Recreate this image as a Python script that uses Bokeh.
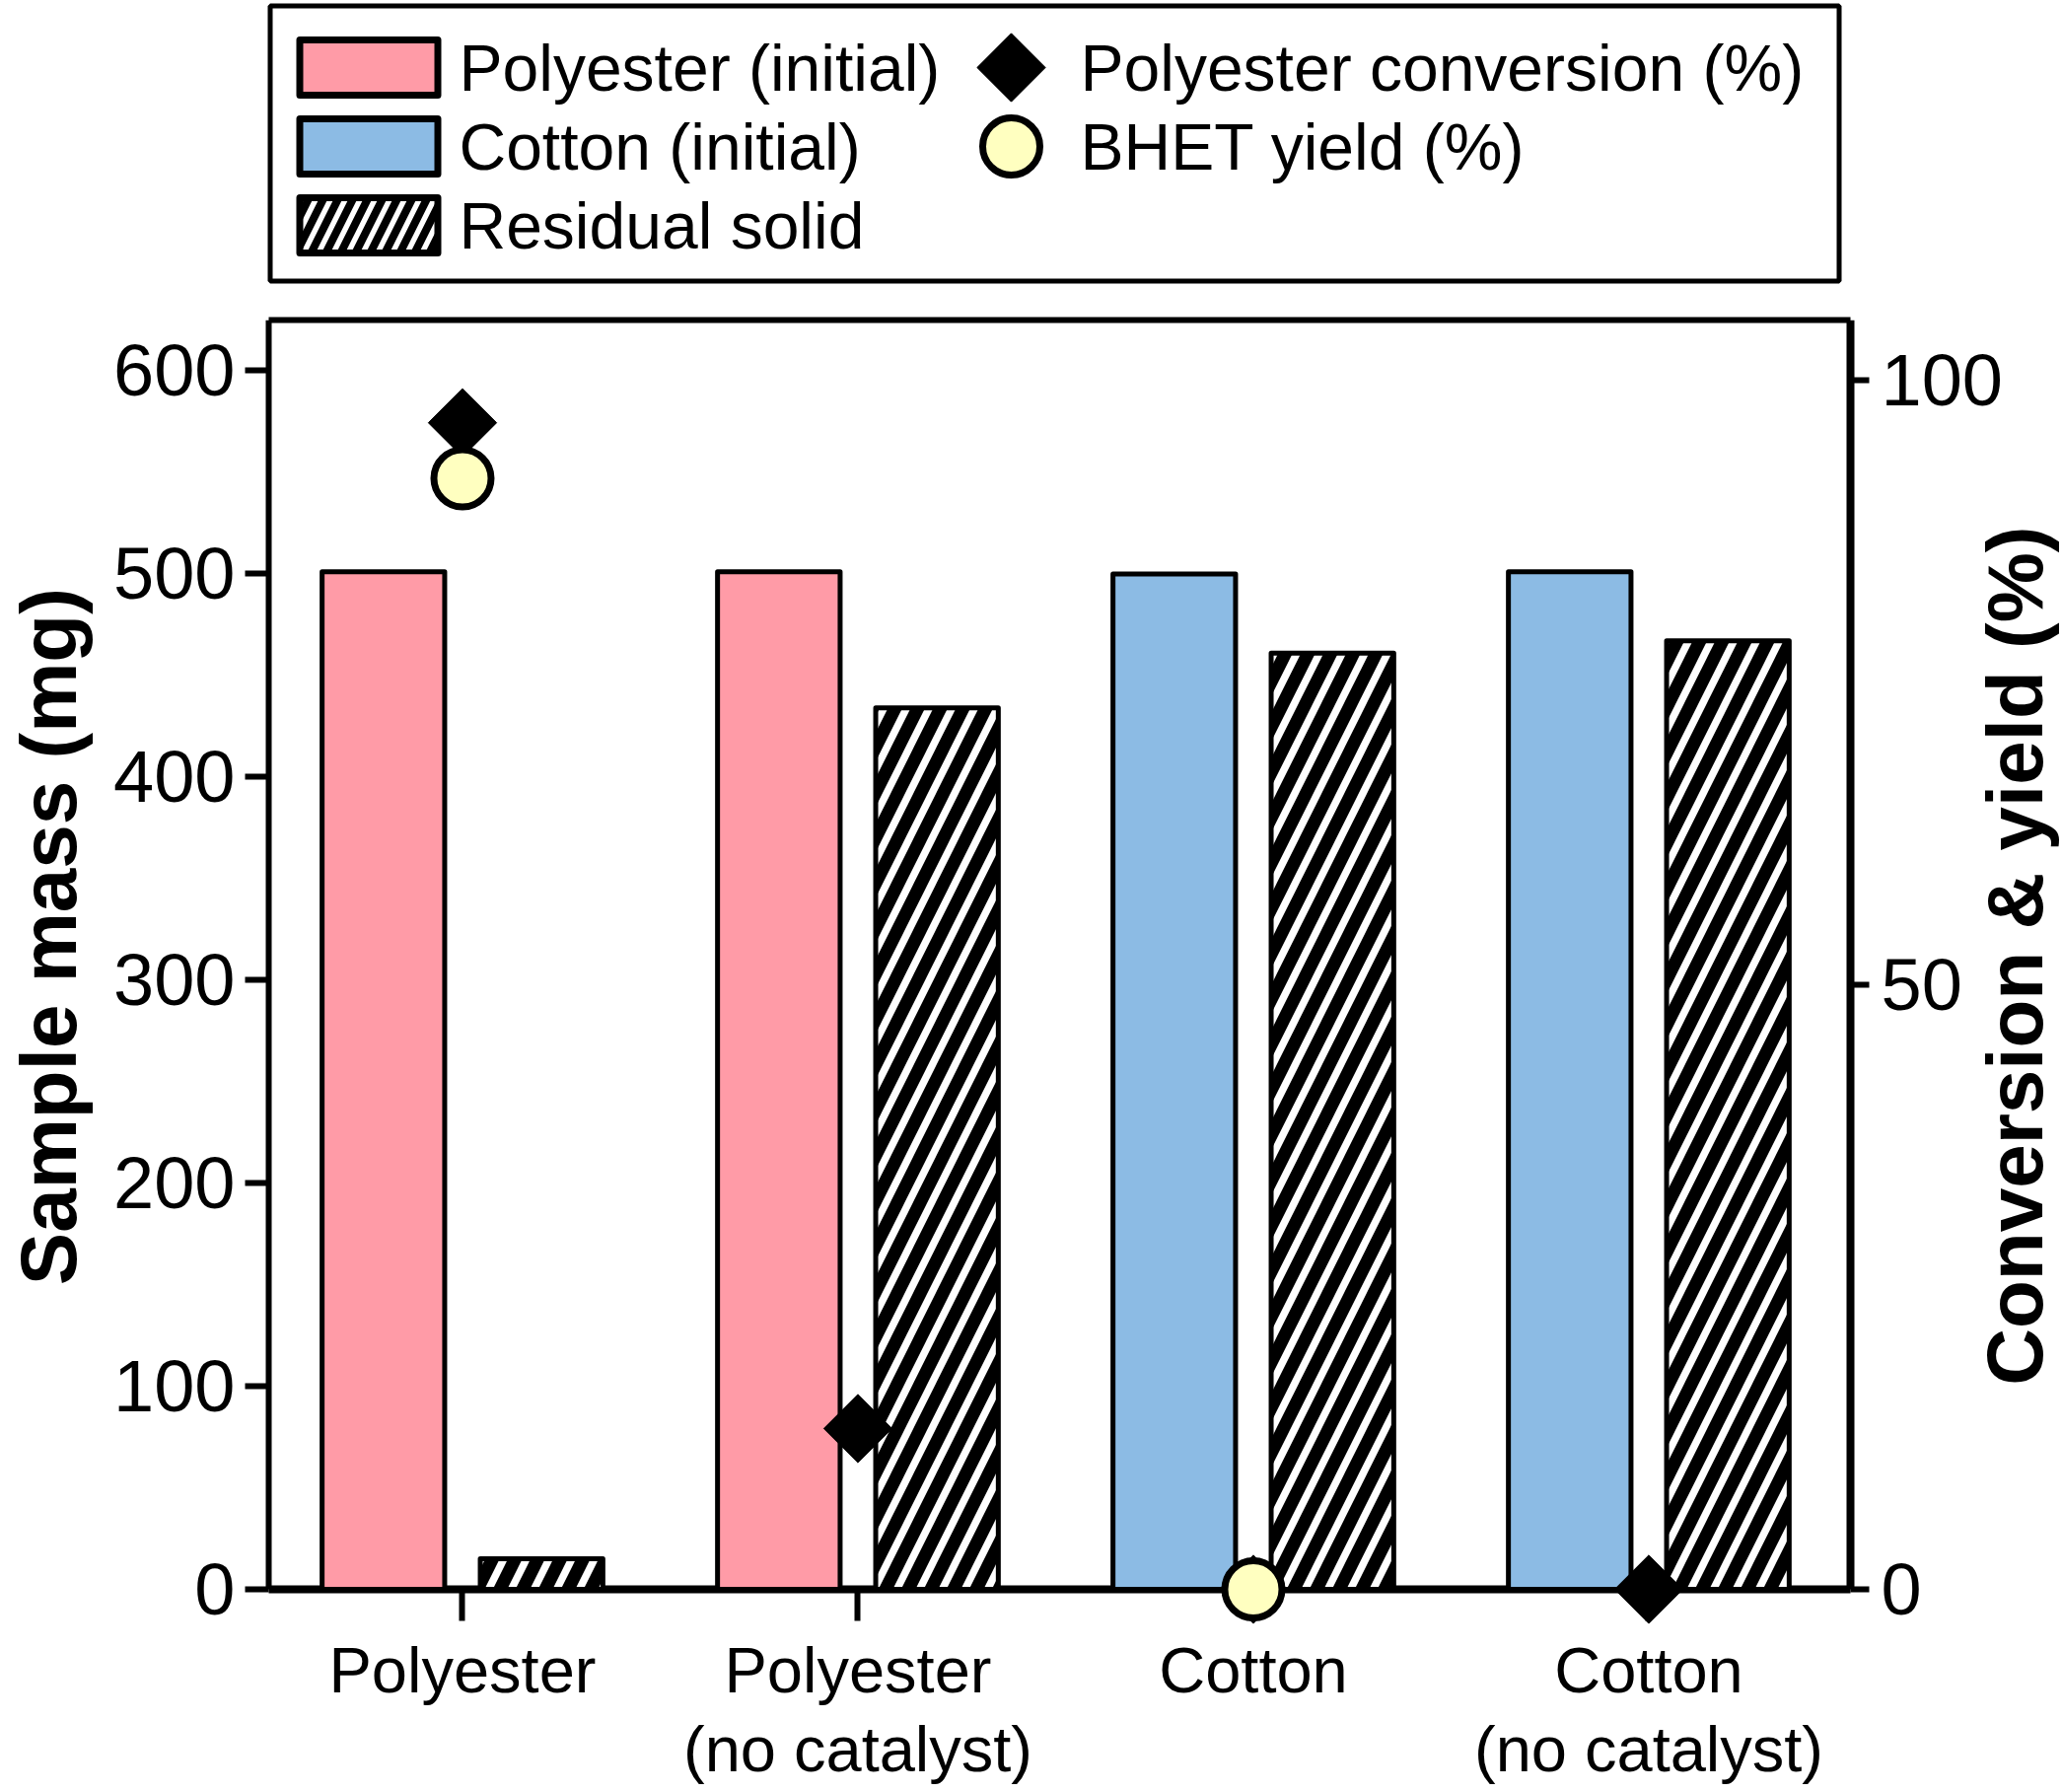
import math
from bokeh.plotting import figure
from bokeh.models import (Range1d, LinearAxis, FixedTicker, ColumnDataSource, Label)
from bokeh.layouts import column
from bokeh.transform import dodge
from bokeh.core.properties import value
from bokeh.embed import file_html
from bokeh.resources import INLINE

# ---------------- data ----------------
categories = ["Polyester", "Polyester\n(no catalyst)", "Cotton", "Cotton\n(no catalyst)"]
material = ["Polyester", "Polyester", "Cotton", "Cotton"]
initial_mass = [501, 501, 500, 501]          # mg
residual_mass = [15, 434, 461, 467]          # mg
conversion_pct = [96.5, 13.3, 0.0, 0.0]      # %
bhet_yield_pct = [91.9, float("nan"), 0.0, float("nan")]  # %
left_ticks = [0, 100, 200, 300, 400, 500, 600]
right_ticks = [0, 50, 100]
legend_labels = ["Polyester (initial)", "Cotton (initial)", "Residual solid",
                 "Polyester conversion (%)", "BHET yield (%)"]
y_title = "Sample mass (mg)"
y2_title = "Conversion & yield (%)"

# ---------------- styles / layout ----------------
PINK = "#FF9BA7"
BLUE = "#8CBBE4"
YELLOW = "#FFFFC0"
FONT = "Liberation Sans"
W = 2088
LEG_H = 300
MAIN_H = 1514
PX_CAT = 401.0            # pixels per category
SPINE_L = -0.49           # x (category units) of the left spine
SPINE_R = 3.51            # x of the right spine
SPINE_L_PX = 272          # canvas x of the left spine
X0 = SPINE_L - SPINE_L_PX / PX_CAT
X1 = X0 + W / PX_CAT
Y_TOP = 625.0
Y_PAD = 17.0
PCT_TOP = 105.0
PCT_PAD = Y_PAD * PCT_TOP / Y_TOP

# ---------------- main figure ----------------
p = figure(x_range=Range1d(X0, X1), y_range=Range1d(-Y_PAD, Y_TOP),
           width=W, height=MAIN_H, output_backend="svg", toolbar_location=None,
           min_border_left=0, min_border_right=0, min_border_top=24,
           min_border_bottom=168)
p.extra_y_ranges = {"pct": Range1d(-PCT_PAD, PCT_TOP)}
p.xgrid.visible = False
p.ygrid.visible = False
p.outline_line_color = None
p.background_fill_color = "white"
p.border_fill_color = "white"
xa = p.below[0]
ya = p.left[0]

xi = list(range(len(categories)))
poly = [i for i, m in enumerate(material) if m == "Polyester"]
cot = [i for i, m in enumerate(material) if m == "Cotton"]
src_poly = ColumnDataSource(dict(x=[xi[i] for i in poly], top=[initial_mass[i] for i in poly]))
src_cot = ColumnDataSource(dict(x=[xi[i] for i in cot], top=[initial_mass[i] for i in cot]))
src_all = ColumnDataSource(dict(x=xi, residual=residual_mass,
                                conv=conversion_pct, bhet=bhet_yield_pct))

bar_w = 0.31
p.vbar(x=dodge("x", -0.2), top="top", bottom=0, width=bar_w, source=src_poly,
       fill_color=PINK, line_color="black", line_width=5, line_join="round")
p.vbar(x=dodge("x", -0.2), top="top", bottom=0, width=bar_w, source=src_cot,
       fill_color=BLUE, line_color="black", line_width=5, line_join="round")
p.vbar(x=dodge("x", 0.2), top="residual", bottom=0, width=bar_w, source=src_all,
       fill_color="white", hatch_pattern="/", hatch_color="black",
       hatch_scale=46, hatch_weight=13, line_color="black", line_width=5,
       line_join="round")

p.scatter(x="x", y="conv", source=src_all, y_range_name="pct", marker="square",
          angle=math.pi / 4, size=49, fill_color="black", line_color="black", line_width=1)
p.scatter(x="x", y="bhet", source=src_all, y_range_name="pct", marker="circle",
          size=58, fill_color=YELLOW, line_color="black", line_width=7)

# left axis (drawn at the left spine)
ya.fixed_location = SPINE_L
ya.ticker = FixedTicker(ticks=left_ticks)
ya.bounds = (0, Y_TOP)
ya.major_label_text_font = FONT
ya.major_label_text_font_size = "74px"
ya.major_label_text_color = "black"
ya.major_label_standoff = 10
ya.major_tick_out = 24
ya.major_tick_in = 0
ya.minor_tick_out = 0
ya.minor_tick_in = 0
ya.major_tick_line_width = 6
ya.major_tick_line_color = "black"
ya.axis_line_width = 6
ya.axis_line_color = "black"

# right axis (drawn at the right spine)
ra = LinearAxis(y_range_name="pct", ticker=FixedTicker(ticks=right_ticks))
ra.fixed_location = SPINE_R
ra.bounds = (0, PCT_TOP)
ra.major_label_text_font = FONT
ra.major_label_text_font_size = "74px"
ra.major_label_text_color = "black"
ra.major_label_standoff = 12
ra.major_tick_out = 19
ra.major_tick_in = 0
ra.minor_tick_out = 0
ra.minor_tick_in = 0
ra.major_tick_line_width = 6
ra.axis_line_width = 8
ra.axis_line_color = "black"
p.add_layout(ra, "right")

# axis titles, both reading bottom-to-top
p.add_layout(Label(x=49, y=321.4, x_units="screen", y_units="data", text=y_title,
                   angle=math.pi / 2, text_font=FONT, text_font_size="80px",
                   text_font_style="bold", text_color="black", text_align="center",
                   text_baseline="alphabetic"))
p.add_layout(Label(x=2043, y=52.4, x_units="screen", y_units="data", y_range_name="pct",
                   text=y2_title, angle=math.pi / 2, text_font=FONT,
                   text_font_size="80px", text_font_style="bold", text_color="black",
                   text_align="center", text_baseline="alphabetic"))

# top border line
ta = LinearAxis(ticker=FixedTicker(ticks=[]))
ta.bounds = (SPINE_L, SPINE_R)
ta.axis_line_width = 6
ta.axis_line_color = "black"
ta.major_tick_out = 0
ta.major_tick_in = 0
ta.minor_tick_out = 0
ta.minor_tick_in = 0
ta.major_label_text_font_size = "0px"
p.add_layout(ta, "above")

# x axis line and category ticks at zero (under the markers)
za = LinearAxis(ticker=FixedTicker(ticks=xi))
za.fixed_location = 0
za.bounds = (SPINE_L, SPINE_R)
za.level = "underlay"
za.axis_line_width = 8
za.axis_line_color = "black"
za.major_tick_out = 32
za.major_tick_in = 0
za.major_tick_line_width = 6
za.major_tick_line_color = "black"
za.minor_tick_out = 0
za.minor_tick_in = 0
za.major_label_overrides = {i: "" for i in xi}
p.add_layout(za, "below")

# category labels
xa.ticker = FixedTicker(ticks=xi)
xa.major_label_overrides = {i: c for i, c in zip(xi, categories)}
xa.axis_line_color = None
xa.major_label_text_font = FONT
xa.major_label_text_font_size = "65px"
xa.major_label_text_line_height = 1.1
xa.major_label_text_color = "black"
xa.major_label_standoff = 10
xa.major_label_orientation = "horizontal"
xa.major_tick_out = 0
xa.major_tick_in = 0
xa.minor_tick_out = 0
xa.minor_tick_in = 0
xa.major_tick_line_color = None

# ---------------- legend figure ----------------
lg = figure(width=W, height=LEG_H, x_range=Range1d(0, W), y_range=Range1d(LEG_H, 0),
            output_backend="svg", toolbar_location=None, min_border=0,
            min_border_left=0, min_border_right=0, min_border_top=0,
            min_border_bottom=0, x_axis_location=None, y_axis_location=None)
lg.outline_line_color = None
lg.grid.visible = False
lg.background_fill_color = "white"
lg.border_fill_color = "white"

rows = [68, 148, 228]
patch_l, patch_r, patch_h = 303.5, 443.5, 56
text1_x = 465
mark2_x = 1025
text2_x = 1095

lg.quad(left=273.5, right=1864.5, top=5.5, bottom=284.5, fill_color=None,
        line_color="black", line_width=5)
lg.quad(left=patch_l, right=patch_r, top=rows[0] - patch_h / 2, bottom=rows[0] + patch_h / 2,
        fill_color=PINK, line_color="black", line_width=7, line_join="round")
lg.quad(left=patch_l, right=patch_r, top=rows[1] - patch_h / 2, bottom=rows[1] + patch_h / 2,
        fill_color=BLUE, line_color="black", line_width=7, line_join="round")
lg.quad(left=patch_l, right=patch_r, top=rows[2] - patch_h / 2, bottom=rows[2] + patch_h / 2,
        fill_color="white", hatch_pattern="/", hatch_color="black", hatch_scale=30,
        hatch_weight=8, line_color="black", line_width=7, line_join="round")
lg.scatter(x=[mark2_x], y=[rows[0]], marker="square", angle=math.pi / 4, size=49,
           fill_color="black", line_color="black")
lg.scatter(x=[mark2_x], y=[rows[1]], marker="circle", size=58, fill_color=YELLOW,
           line_color="black", line_width=7)
lg.text(x=[text1_x] * 3, y=rows, text=legend_labels[:3], text_font=value(FONT),
        text_font_size=value("66px"), text_baseline="middle", text_align="left",
        text_color="black")
lg.text(x=[text2_x] * 2, y=rows[:2], text=legend_labels[3:], text_font=value(FONT),
        text_font_size=value("66px"), text_baseline="middle", text_align="left",
        text_color="black")

layout = column(lg, p, spacing=0)
open("out.html", "w").write(file_html(layout, INLINE))
